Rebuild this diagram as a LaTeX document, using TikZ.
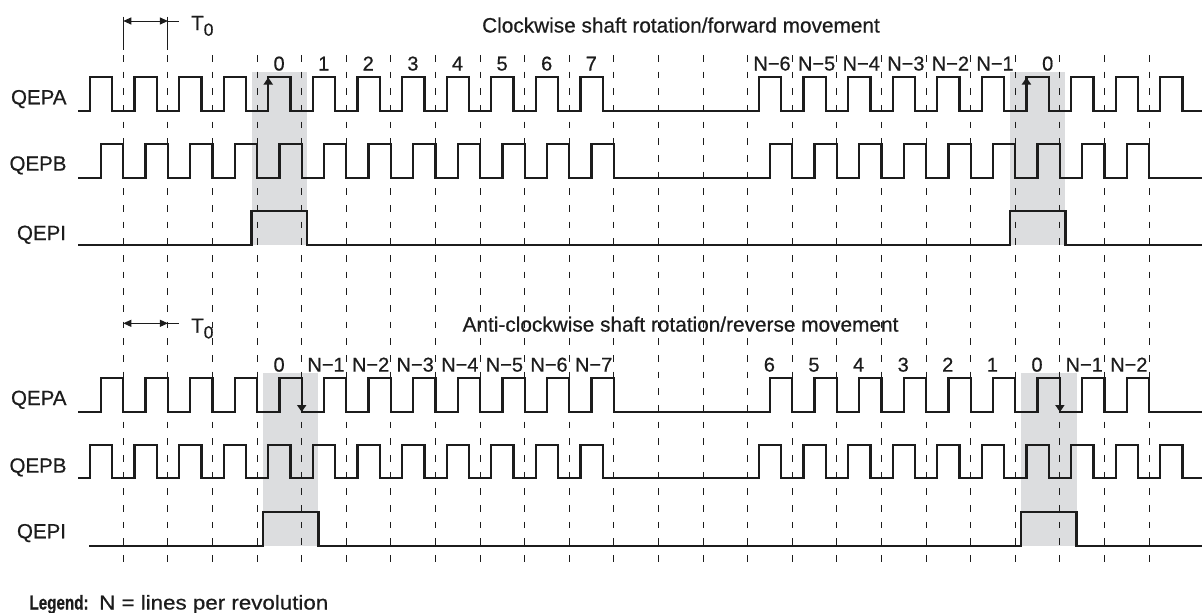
\documentclass[tikz,border=0pt]{standalone}
\usepackage{fontspec}
\setmainfont[FakeBold=0.6]{Liberation Sans}
\newfontfamily\legendbold[FakeBold=0.6]{Liberation Sans Bold}
\usetikzlibrary{arrows.meta}
\definecolor{shadegray}{RGB}{220,221,223}
\definecolor{ink}{RGB}{28,28,28}
\newcommand\dx[1]{(123.3+44.6*(#1))}
\newcommand\mns{\char"2212\relax}
\begin{document}
\begin{tikzpicture}[x=1pt,y=-1pt,
  wave/.style={ink, line width=2.3pt, line join=miter},
  gridline/.style={ink, line width=0.9pt, dash pattern=on 6.67pt off 10pt},
  extline/.style={ink, line width=0.9pt},
  sig/.style={anchor=base east, inner sep=0pt, text=ink, font=\fontsize{20.5}{20.5}\selectfont},
  num/.style={anchor=base, inner sep=0pt, text=ink, font=\fontsize{20}{20}\selectfont},
  numl/.style={anchor=base west, inner sep=0pt, text=ink, font=\fontsize{20}{20}\selectfont},
  ttl/.style={anchor=base, inner sep=0pt, text=ink, font=\fontsize{20.8}{20.8}\selectfont},
  tlab/.style={anchor=base west, inner sep=0pt, text=ink, font=\fontsize{20.5}{20.5}\selectfont},
  edgearrow/.style={ink, line width=2.3pt, -{Triangle[length=7pt,width=9pt]}},
  dimarrow/.style={ink, line width=1pt, {Triangle[length=8pt,width=7pt]}-{Triangle[length=8pt,width=7pt]}}
]
\useasboundingbox (0,0) rectangle (1202,613);

% shading
\fill[shadegray] ({\dx{3}-5.575},72.3) rectangle ({\dx{4}+5.575},245);
\fill[shadegray] ({\dx{20}-5.575},72.3) rectangle ({\dx{21}+5.575},245);
\fill[shadegray] ({\dx{3}+5.575},372.7) rectangle ({\dx{4}+16.725},546);
\fill[shadegray] ({\dx{20}+5.575},372.7) rectangle ({\dx{21}+16.725},546);

% grid
\foreach \i in {0,...,23} \draw[gridline] ({\dx{\i}},55) -- ({\dx{\i}},563);
\draw[extline] ({\dx{0}},16.7) -- ({\dx{0}},50);
\draw[extline] ({\dx{1}},16.7) -- ({\dx{1}},50);

% T0 markers
\draw[dimarrow] ({\dx{0}},21) -- ({\dx{1}},21);
\draw[extline] ({\dx{1}},21) -- (179,21);
\node[tlab] (t0a) at (191,30) {T\raisebox{-5.7pt}{\fontsize{17.5}{17.5}\selectfont 0}};
\draw[dimarrow] ({\dx{0}},323.3) -- ({\dx{1}},323.3);
\draw[extline] ({\dx{1}},323.3) -- (179,323.3);
\node[tlab] (t0b) at (191,332.7) {T\raisebox{-5.7pt}{\fontsize{17.5}{17.5}\selectfont 0}};

% ---------- top: clockwise ----------
\draw[wave] (78.3,111) \foreach \i in {-1,0,1,2,3,4,5,6,7,8,9,10,14,15,16,17,18,19,20,21,22,23}
  { -- ({\dx{\i}+11.15},111) -- ({\dx{\i}+11.15},77.3) -- ({\dx{\i}+33.45},77.3) -- ({\dx{\i}+33.45},111) } -- (1202,111);
\draw[wave] (78.3,178.3) \foreach \i in {-1,0,1,2,3,4,5,6,7,8,9,10,14,15,16,17,18,19,20,21,22}
  { -- ({\dx{\i}+22.3},178.3) -- ({\dx{\i}+22.3},144.3) -- ({\dx{\i}+44.6},144.3) -- ({\dx{\i}+44.6},178.3) } -- (1202,178.3);
\draw[wave] (78.3,245) -- ({\dx{3}-5.575},245) -- ({\dx{3}-5.575},211) -- ({\dx{4}+5.575},211) -- ({\dx{4}+5.575},245)
  -- ({\dx{20}-5.575},245) -- ({\dx{20}-5.575},211) -- ({\dx{21}+5.575},211) -- ({\dx{21}+5.575},245) -- (1202,245);
\draw[edgearrow] ({\dx{3}+11.15},100) -- ({\dx{3}+11.15},77.5);
\draw[edgearrow] ({\dx{20}+11.15},100) -- ({\dx{20}+11.15},77.5);

% ---------- bottom: anti-clockwise ----------
\draw[wave] (78.3,412.3) \foreach \i in {-1,0,1,2,3,4,5,6,7,8,9,10,14,15,16,17,18,19,20,21,22}
  { -- ({\dx{\i}+22.3},412.3) -- ({\dx{\i}+22.3},378.3) -- ({\dx{\i}+44.6},378.3) -- ({\dx{\i}+44.6},412.3) } -- (1202,412.3);
\draw[wave] (78.3,478.3) \foreach \i in {-1,0,1,2,3,4,5,6,7,8,9,10,14,15,16,17,18,19,20,21,22,23}
  { -- ({\dx{\i}+11.15},478.3) -- ({\dx{\i}+11.15},445) -- ({\dx{\i}+33.45},445) -- ({\dx{\i}+33.45},478.3) } -- (1202,478.3);
\draw[wave] (89.3,546) -- ({\dx{3}+5.575},546) -- ({\dx{3}+5.575},512.3) -- ({\dx{4}+16.725},512.3) -- ({\dx{4}+16.725},546)
  -- ({\dx{20}+5.575},546) -- ({\dx{20}+5.575},512.3) -- ({\dx{21}+16.725},512.3) -- ({\dx{21}+16.725},546) -- (1202,546);
\draw[edgearrow] ({\dx{4}},390) -- ({\dx{4}},412);
\draw[edgearrow] ({\dx{21}},390) -- ({\dx{21}},412);

% signal names
\node[sig] (qa1) at (66.7,104.3) {QEPA};
\node[sig] (qb1) at (66.7,170.6) {QEPB};
\node[sig] (qi1) at (66.2,240) {QEPI};
\node[sig] (qa2) at (66.7,405) {QEPA};
\node[sig] (qb2) at (66.7,472.6) {QEPB};
\node[sig] (qi2) at (66.2,538.3) {QEPI};

% titles
\node[ttl] (title1) at (681,32.5) {Clockwise shaft rotation/forward movement};
\node[ttl] (title2) at (680.5,331.6) {Anti-clockwise shaft rotation/reverse movement};

% top count labels
\foreach \i/\t in {3/0,4/1,5/2,6/3,7/4,8/5,9/6,10/7}
  \node[num] (ta\i) at ({\dx{\i}+22},70.5) {\t};
\foreach \i/\t in {14/6,15/5,16/4,17/3,18/2,19/1}
  \node[numl] (tb\i) at ({\dx{\i}+5.5},70.5) {N\mns\t};
\node[num] (tc20) at (1047.7,70.5) {0};

% bottom count labels
\node[num] (ba3) at ({\dx{3}+22},371.6) {0};
\foreach \i/\t in {4/1,5/2,6/3,7/4,8/5,9/6,10/7}
  \node[numl] (bb\i) at ({\dx{\i}+5.5},371.6) {N\mns\t};
\foreach \i/\t in {14/6,15/5,16/4,17/3,18/2,19/1,20/0}
  \node[num] (bc\i) at ({\dx{\i}+21.7},371.6) {\t};
\foreach \i/\t in {21/1,22/2}
  \node[numl] (bd\i) at ({\dx{\i}+5.5},371.6) {N\mns\t};

% legend
\node[anchor=base west, inner sep=0pt, text=ink] (leg1) at (29.3,609.5)
  {\scalebox{0.76}[1]{\fontsize{20}{20}\legendbold Legend:}};
\node[anchor=base west, inner sep=0pt, text=ink] (leg2) at (99,609.5)
  {\scalebox{1.117}[1]{\fontsize{20}{20}\selectfont N = lines per revolution}};
\end{tikzpicture}
\end{document}
